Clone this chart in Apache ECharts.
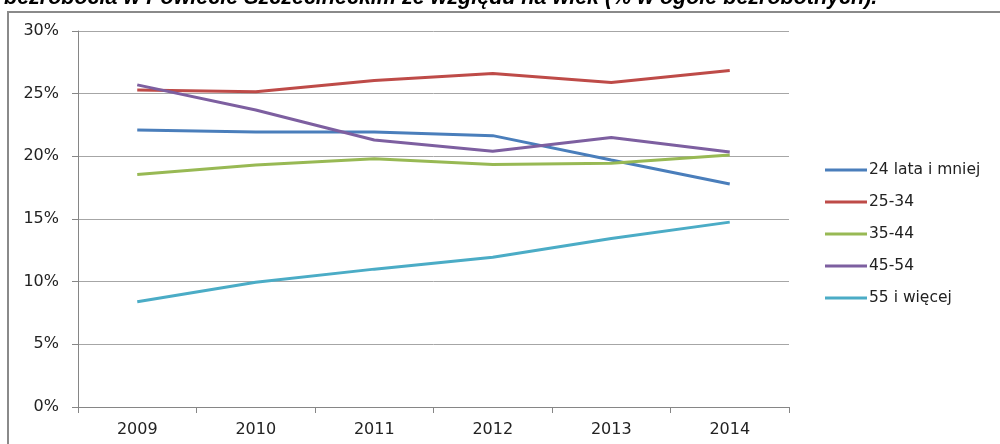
<!DOCTYPE html>
<html>
<head>
<meta charset="utf-8">
<script src="https://cdn.jsdelivr.net/npm/echarts@6/dist/echarts.min.js"></script>
<style>
  html, body { margin: 0; padding: 0; background: #fff; }
  #main { width: 1000px; height: 444px; }
</style>
</head>
<body>
<div id="main"></div>
<script>
// dane z wykresu
var years = ['2009', '2010', '2011', '2012', '2013', '2014']
var groupNames = ['24 lata i mniej', '25-34', '35-44', '45-54', '55 i więcej']
var age24 = [22.1, 21.95, 21.95, 21.65, 19.7, 17.8]
var age25_34 = [25.3, 25.15, 26.05, 26.6, 25.9, 26.85]
var age35_44 = [18.55, 19.3, 19.8, 19.35, 19.45, 20.1]
var age45_54 = [25.7, 23.7, 21.3, 20.4, 21.5, 20.35]
var age55 = [8.4, 9.95, 11.0, 11.95, 13.45, 14.75]
var colors = ['#4a7ebb', '#be4b48', '#98b954', '#7d5fa0', '#4bacc6']

var myChart = echarts.init(document.getElementById('main'))

var allData = [age24, age25_34, age35_44, age45_54, age55]
var series = []
for (var i = 0; i < allData.length; i++) {
  series.push({
    name: groupNames[i],
    type: 'line',
    data: allData[i],
    symbol: 'none',
    lineStyle: { width: 3, color: colors[i] },
    itemStyle: { color: colors[i] }
  })
}

var option = {
  animation: false,
  color: colors,
  title: {
    text: 'bezrobocia w Powiecie Szczecineckim ze względu na wiek (% w ogóle bezrobotnych).',
    left: 4,
    top: -13,
    padding: 0,
    textStyle: {
      fontFamily: 'Liberation Sans',
      fontSize: 21.5,
      fontWeight: 'bold',
      fontStyle: 'italic',
      color: '#000'
    }
  },
  graphic: [{
    type: 'rect',
    z: -1,
    shape: { x: 8, y: 12, width: 1000, height: 450 },
    style: { fill: 'none', stroke: '#8a8a8a', lineWidth: 2 }
  }],
  grid: { left: 78, right: 211, top: 31, bottom: 37 },
  legend: {
    orient: 'vertical',
    left: 820,
    top: 157,
    icon: 'rect',
    itemWidth: 42,
    itemHeight: 3,
    itemGap: 16,
    textStyle: { fontFamily: 'DejaVu Sans', fontSize: 15.5, color: '#222', padding: [0, 0, 0, -3] },
    data: groupNames
  },
  xAxis: {
    type: 'category',
    data: years,
    boundaryGap: true,
    axisLine: { lineStyle: { color: '#868686', width: 1 } },
    axisTick: { show: true, length: 6, lineStyle: { color: '#868686' } },
    axisLabel: { fontFamily: 'DejaVu Sans', fontSize: 16, color: '#222', margin: 15 }
  },
  yAxis: {
    type: 'value',
    min: 0,
    max: 30,
    interval: 5,
    axisLine: { show: true, lineStyle: { color: '#868686', width: 1 } },
    axisTick: { show: true, length: 6, lineStyle: { color: '#868686' } },
    axisLabel: { formatter: '{value}%', fontFamily: 'DejaVu Sans', fontSize: 16, color: '#222', margin: 19 },
    splitLine: { lineStyle: { color: '#a6a6a6', width: 1 } }
  },
  series: series
}

myChart.setOption(option)
</script>
</body>
</html>
